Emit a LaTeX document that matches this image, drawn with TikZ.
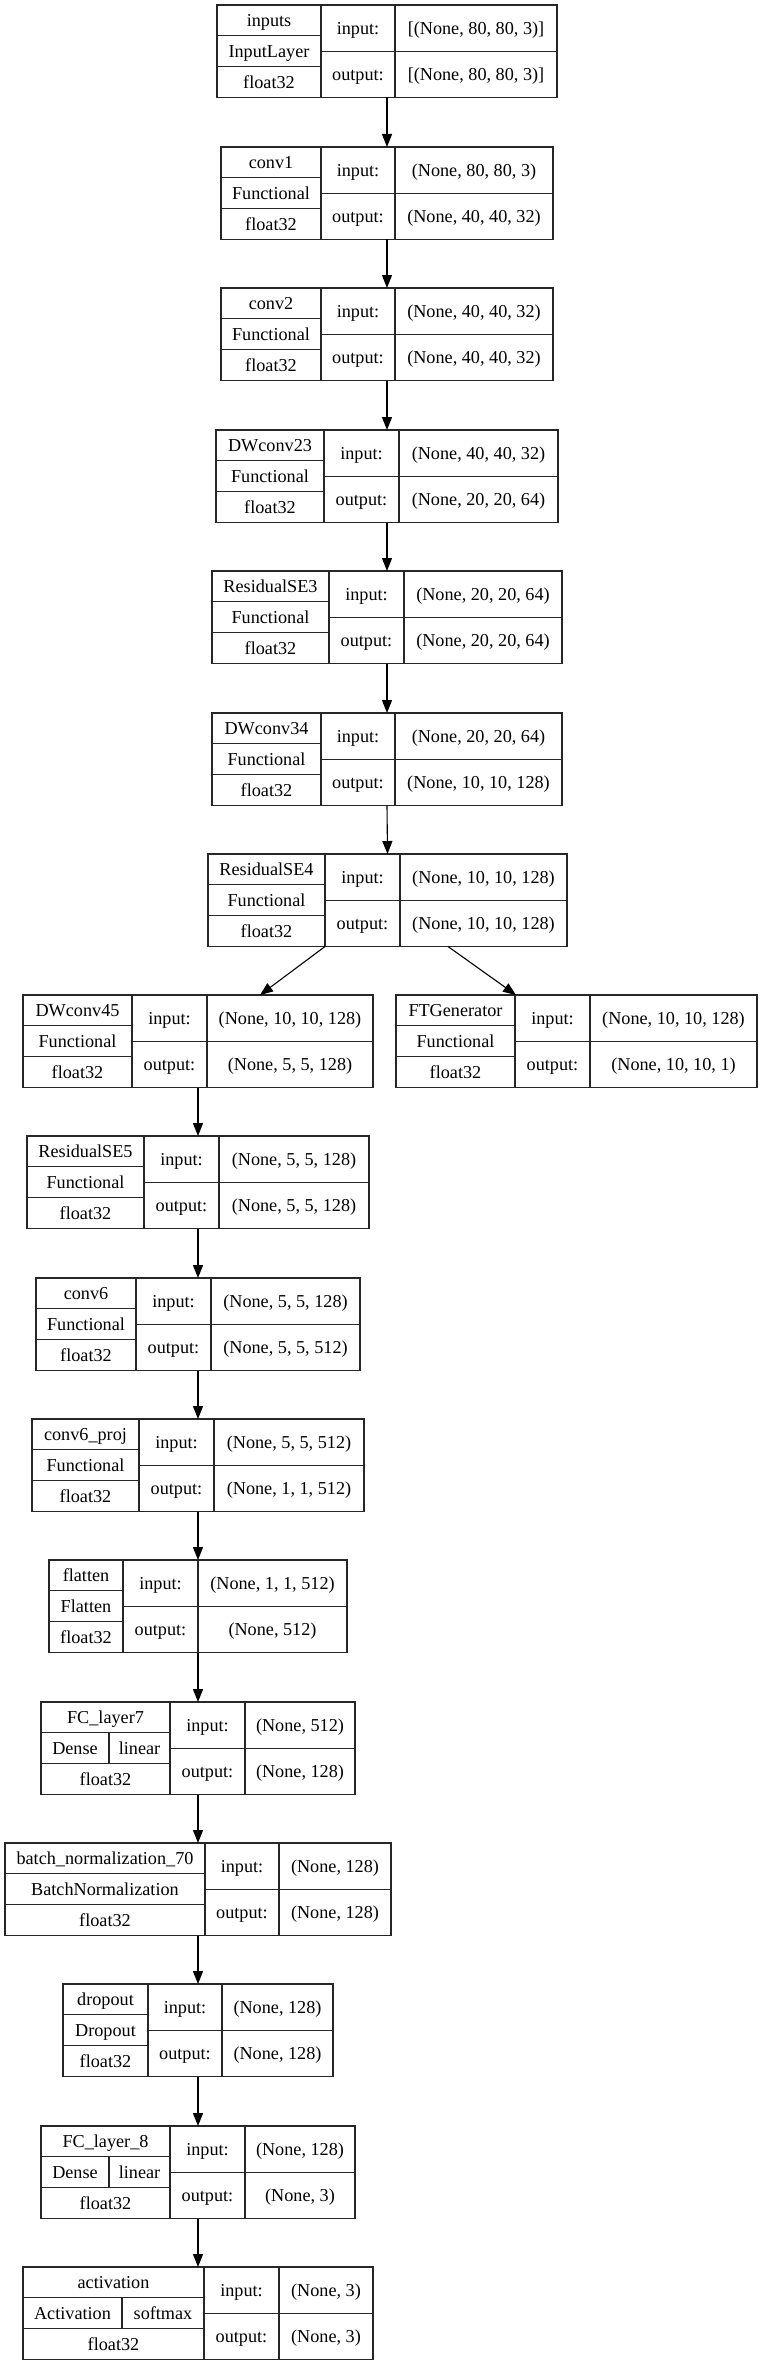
\documentclass[tikz,border=0pt]{standalone}
\usepackage{fontspec}
\setmainfont{Liberation Serif}
\usetikzlibrary{arrows.meta,calc}
\tikzset{
  frame/.style={draw=black!85, line width=1.1pt, inner sep=0pt, outer sep=0pt, minimum height=92.5pt},
  rule/.style={draw=black!85, line width=1.1pt},
  txt/.style={anchor=base, inner sep=0pt, font=\fontsize{18.2}{22}\selectfont},
  arr/.style={draw=black, line width=1.1pt, -{Triangle[width=10pt,length=13pt]}}
}
% geometry of one record: name, left, top, col1, col2, right
\newcommand\kxrec[6]{%
  \def\kxN{#1}%
  \pgfmathsetmacro\kxL{#2}\pgfmathsetmacro\kxT{#3}%
  \pgfmathsetmacro\kxA{#4}\pgfmathsetmacro\kxB{#5}\pgfmathsetmacro\kxR{#6}%
  \pgfmathsetmacro\kxBot{#3+92.5}\pgfmathsetmacro\kxMid{#3+46.25}%
  \pgfmathsetmacro\kxOne{#3+30.83}\pgfmathsetmacro\kxTwo{#3+61.67}%
  \pgfmathsetmacro\kxW{#6-#2}%
  \node[frame, minimum width=\kxW pt, anchor=north west] (#1) at (\kxL,\kxT) {};
  \draw[rule] (\kxA,\kxT) -- (\kxA,\kxBot) (\kxB,\kxT) -- (\kxB,\kxBot)
     (\kxA,\kxMid) -- (\kxR,\kxMid) (\kxL,\kxOne) -- (\kxA,\kxOne) (\kxL,\kxTwo) -- (\kxA,\kxTwo);
}
\newcommand\kxio[2]{%
  \node[txt] (\kxN-i) at ({(\kxA+\kxB)/2},{\kxT+29.1}) {input:};
  \node[txt] (\kxN-o) at ({(\kxA+\kxB)/2},{\kxT+75.4}) {output:};
  \node[txt] (\kxN-iv) at ({(\kxB+\kxR)/2},{\kxT+29.1}) {#1};
  \node[txt] (\kxN-ov) at ({(\kxB+\kxR)/2},{\kxT+75.4}) {#2};
}
% texts: name, class, dtype, input shape, output shape
\newcommand\kxtext[5]{%
  \node[txt] (\kxN-a) at ({(\kxL+\kxA)/2},{\kxT+21.4}) {#1};
  \node[txt] (\kxN-b) at ({(\kxL+\kxA)/2},{\kxT+52.25}) {#2};
  \node[txt] (\kxN-c) at ({(\kxL+\kxA)/2},{\kxT+83.1}) {#3};
  \kxio{#4}{#5}
}
% texts with split middle row: name, class, activation, split x, dtype, input, output
\newcommand\kxtextsplit[7]{%
  \draw[rule] (#4,\kxOne) -- (#4,\kxTwo);
  \node[txt] (\kxN-a) at ({(\kxL+\kxA)/2},{\kxT+21.4}) {#1};
  \node[txt] (\kxN-b) at ({(\kxL+#4)/2},{\kxT+52.25}) {#2};
  \node[txt] (\kxN-d) at ({(#4+\kxA)/2},{\kxT+52.25}) {#3};
  \node[txt] (\kxN-c) at ({(\kxL+\kxA)/2},{\kxT+83.1}) {#5};
  \kxio{#6}{#7}
}
\begin{document}
\begin{tikzpicture}[x=1pt,y=-1pt]
\fill[white] (0,0) rectangle (762,2365);
\useasboundingbox (0,0) rectangle (762,2365);

\kxrec{inputs}{217}{5}{321}{395}{557}
\kxtext{inputs}{InputLayer}{float32}{[(None, 80, 80, 3)]}{[(None, 80, 80, 3)]}

\kxrec{conv1}{221}{147}{321}{395}{553}
\kxtext{conv1}{Functional}{float32}{(None, 80, 80, 3)}{(None, 40, 40, 32)}

\kxrec{conv2}{221}{288}{321}{395}{553}
\kxtext{conv2}{Functional}{float32}{(None, 40, 40, 32)}{(None, 40, 40, 32)}

\kxrec{dw23}{216}{430}{324}{399}{558}
\kxtext{DWconv23}{Functional}{float32}{(None, 40, 40, 32)}{(None, 20, 20, 64)}

\kxrec{rse3}{212}{571}{329}{404}{562}
\kxtext{ResidualSE3}{Functional}{float32}{(None, 20, 20, 64)}{(None, 20, 20, 64)}

\kxrec{dw34}{212}{713}{321}{395}{562}
\kxtext{DWconv34}{Functional}{float32}{(None, 20, 20, 64)}{(None, 10, 10, 128)}

\kxrec{rse4}{208}{854}{325}{400}{567}
\kxtext{ResidualSE4}{Functional}{float32}{(None, 10, 10, 128)}{(None, 10, 10, 128)}

\kxrec{dw45}{23}{995}{132}{207}{373}
\kxtext{DWconv45}{Functional}{float32}{(None, 10, 10, 128)}{(None, 5, 5, 128)}

\kxrec{ftg}{396}{995}{515}{590}{757}
\kxtext{FTGenerator}{Functional}{float32}{(None, 10, 10, 128)}{(None, 10, 10, 1)}

\kxrec{rse5}{27}{1136}{144}{219}{369}
\kxtext{ResidualSE5}{Functional}{float32}{(None, 5, 5, 128)}{(None, 5, 5, 128)}

\kxrec{conv6}{36}{1278}{136}{211}{360}
\kxtext{conv6}{Functional}{float32}{(None, 5, 5, 128)}{(None, 5, 5, 512)}

\kxrec{proj}{32}{1419}{139}{214}{364}
\kxtext{conv6\_proj}{Functional}{float32}{(None, 5, 5, 512)}{(None, 1, 1, 512)}

\kxrec{flat}{49}{1560}{123}{198}{347}
\kxtext{flatten}{Flatten}{float32}{(None, 1, 1, 512)}{(None, 512)}

\kxrec{fc7}{41}{1702}{170}{245}{355}
\kxtextsplit{FC\_layer7}{Dense}{linear}{109}{float32}{(None, 512)}{(None, 128)}

\kxrec{bn}{5}{1843}{205}{279}{391}
\kxtext{batch\_normalization\_70}{BatchNormalization}{float32}{(None, 128)}{(None, 128)}

\kxrec{drop}{63}{1984}{148}{222}{333}
\kxtext{dropout}{Dropout}{float32}{(None, 128)}{(None, 128)}

\kxrec{fc8}{41}{2126}{170}{245}{355}
\kxtextsplit{FC\_layer\_8}{Dense}{linear}{109}{float32}{(None, 128)}{(None, 3)}

\kxrec{act}{23}{2267}{204}{279}{373}
\kxtextsplit{activation}{Activation}{softmax}{122}{float32}{(None, 3)}{(None, 3)}

% connectors
\draw[arr] (inputs.south) -- (conv1.north);
\draw[arr] (conv1.south) -- (conv2.north);
\draw[arr] (conv2.south) -- (dw23.north);
\draw[arr] (dw23.south) -- (rse3.north);
\draw[arr] (rse3.south) -- (dw34.north);
\draw[arr] (dw34.south) -- (rse4.north);
\draw[arr] ($(rse4.south west)+(117,0)$) -- ($(dw45.north west)+(237,0)$);
\draw[arr] ($(rse4.south west)+(240,0)$) -- ($(ftg.north west)+(120,0)$);
\draw[arr] (dw45.south) -- (rse5.north);
\draw[arr] (rse5.south) -- (conv6.north);
\draw[arr] (conv6.south) -- (proj.north);
\draw[arr] (proj.south) -- (flat.north);
\draw[arr] (flat.south) -- (fc7.north);
\draw[arr] (fc7.south) -- (bn.north);
\draw[arr] (bn.south) -- (drop.north);
\draw[arr] (drop.south) -- (fc8.north);
\draw[arr] (fc8.south) -- (act.north);
\end{tikzpicture}
\end{document}
